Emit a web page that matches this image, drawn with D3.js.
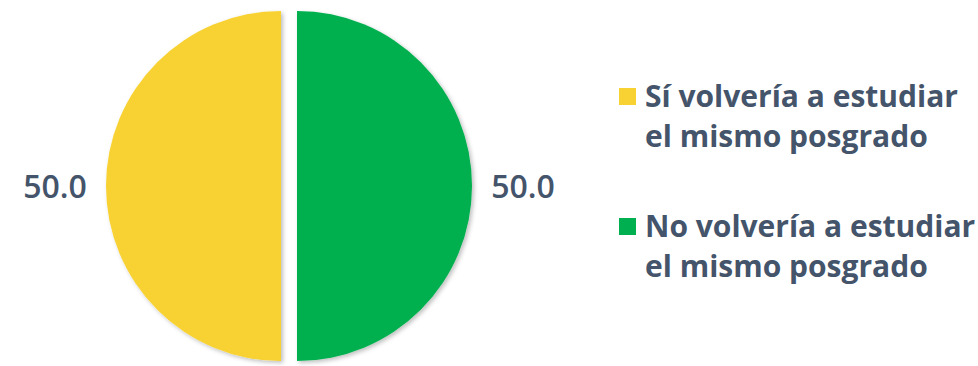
<!DOCTYPE html>
<html>
<head>
<meta charset="utf-8">
<script src="https://cdn.jsdelivr.net/npm/d3@7"></script>
<style>
  body { margin: 0; background: #fff; }
  text { font-family: "Open Sans", Roboto, sans-serif; fill: #44546A; }
</style>
</head>
<body>
<div id="chart"></div>
<script>
var w = 978, h = 366;

var categories = ["Sí volvería a estudiar el mismo posgrado", "No volvería a estudiar el mismo posgrado"];
var values = [50.0, 50.0];
var legendLines = [["Sí volvería a estudiar", "el mismo posgrado"], ["No volvería a estudiar", "el mismo posgrado"]];
var colors = ["#F8D232", "#00B050"];

var cx = 289, cy = 186, radius = 175, explode = 8;

var svg = d3.select("#chart")
  .append("svg")
  .attr("width", w)
  .attr("height", h);

// soft shadow like the office chart
var defs = svg.append("defs");
var f = defs.append("filter").attr("id", "shadow")
  .attr("x", "-10%").attr("y", "-10%").attr("width", "120%").attr("height", "120%");
f.append("feDropShadow")
  .attr("dx", 2).attr("dy", 2).attr("stdDeviation", 2)
  .attr("flood-color", "#000").attr("flood-opacity", 0.25);

var data = categories.map(function(c, i) { return {name: c, value: values[i], color: colors[i]}; });

var pie = d3.pie()
  .sort(null)
  .startAngle(Math.PI)
  .endAngle(3 * Math.PI)
  .value(function(d) { return d.value; })(data);

var arc = d3.arc().innerRadius(0).outerRadius(radius);
var labelArc = d3.arc().innerRadius(234).outerRadius(234);

var g = svg.append("g")
  .attr("transform", "translate(" + cx + "," + cy + ")");

var slices = g.selectAll("g.slice")
  .data(pie)
  .enter().append("g")
  .attr("class", "slice");

slices.append("path")
  .attr("d", arc)
  .attr("transform", function(d) {
    var a = (d.startAngle + d.endAngle) / 2;
    return "translate(" + (Math.sin(a) * explode) + "," + (-Math.cos(a) * explode) + ")";
  })
  .style("fill", function(d) { return d.data.color; })
  .attr("filter", "url(#shadow)");

slices.append("text")
  .attr("transform", function(d) { return "translate(" + labelArc.centroid(d) + ")"; })
  .attr("text-anchor", "middle")
  .attr("dy", "0.36em")
  .style("font-size", "32px")
  .style("font-weight", "600")
  .text(function(d) { return d3.format(".1f")(d.data.value); });

// legend
var legend = svg.append("g").attr("transform", "translate(619,88)");
var item = legend.selectAll("g.item")
  .data(data)
  .enter().append("g")
  .attr("class", "item")
  .attr("transform", function(d, i) { return "translate(0," + (i * 130) + ")"; });

item.append("rect")
  .attr("width", 17).attr("height", 17)
  .style("fill", function(d) { return d.color; });

item.append("text")
  .attr("x", 26)
  .attr("y", 19)
  .style("font-size", "30px")
  .style("font-weight", "bold")
  .selectAll("tspan")
  .data(function(d, i) { return legendLines[i]; })
  .enter().append("tspan")
  .attr("x", 26)
  .attr("dy", function(d, i) { return i ? 40 : 0; })
  .text(function(d) { return d; });
</script>
</body>
</html>
